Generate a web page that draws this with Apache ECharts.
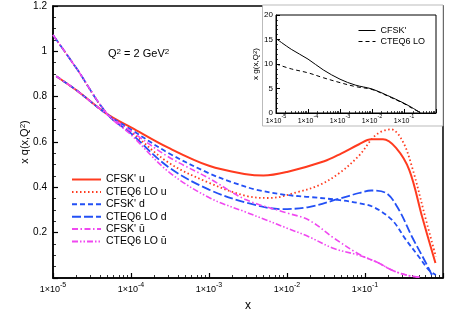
<!DOCTYPE html>
<html><head><meta charset="utf-8">
<script src="https://cdn.jsdelivr.net/npm/echarts@6/dist/echarts.min.js"></script>
<style>html,body{margin:0;padding:0;background:#fff}#c{width:450px;height:318px}</style>
</head><body><div id="c"></div>
<script>
// ---- data (x, x q(x,Q^2)) ----
const cfskU = [[1.1e-5,0.89],[2e-5,0.828],[5e-5,0.722],[1e-4,0.665],[3e-4,0.575],[1e-3,0.495],[3e-3,0.458],[5e-3,0.452],[1e-2,0.468],[3e-2,0.515],[5e-2,0.55],[0.084,0.59],[0.12,0.612],[0.17,0.612],[0.25,0.574],[0.37,0.476],[0.54,0.27],[0.8,0.066]];
const cteqU = [[1e-5,1.072],[2e-5,0.925],[5e-5,0.722],[1e-4,0.645],[3e-4,0.51],[1e-3,0.42],[3e-3,0.362],[6e-3,0.353],[1.4e-2,0.38],[2.6e-2,0.41],[4.7e-2,0.463],[8.4e-2,0.54],[0.138,0.631],[0.215,0.656],[0.298,0.609],[0.40,0.491],[0.605,0.256],[0.81,0.094]];
const cfskD = [[1.1e-5,0.89],[2e-5,0.828],[5e-5,0.72],[1e-4,0.655],[3e-4,0.552],[1e-3,0.462],[2e-3,0.422],[4e-3,0.39],[1e-2,0.366],[2e-2,0.357],[4.7e-2,0.344],[8.4e-2,0.33],[0.13,0.312],[0.222,0.256],[0.336,0.168],[0.49,0.094],[0.66,0.035],[0.81,0.013]];
const cteqD = [[1e-5,1.072],[2e-5,0.925],[5e-5,0.722],[1e-4,0.638],[3e-4,0.49],[1e-3,0.39],[3.2e-3,0.33],[8.6e-3,0.304],[1.9e-2,0.313],[4.7e-2,0.35],[8.4e-2,0.375],[0.12,0.386],[0.186,0.375],[0.273,0.30],[0.40,0.182],[0.605,0.066],[0.72,0.013]];
const cfskUbar = [[1.1e-5,0.89],[2e-5,0.828],[5e-5,0.72],[1e-4,0.648],[3e-4,0.535],[1e-3,0.44],[3e-3,0.345],[1e-2,0.287],[1.9e-2,0.256],[4e-2,0.176],[8.4e-2,0.105],[0.15,0.066],[0.22,0.035],[0.34,0.013],[0.5,0.003]];
const cteqUbar = [[1e-5,1.072],[2e-5,0.925],[5e-5,0.722],[1e-4,0.632],[3e-4,0.47],[1e-3,0.355],[3e-3,0.29],[5.4e-3,0.256],[1e-2,0.22],[1.9e-2,0.182],[4e-2,0.13],[8.4e-2,0.10],[0.15,0.066],[0.22,0.035],[0.34,0.013],[0.5,0.003]];
// inset: x g(x,Q^2)
const gCfsk = [[1e-5,15.2],[3e-5,13],[1e-4,11],[3e-4,8.8],[1e-3,6.9],[3e-3,5.7],[1e-2,4.9],[3e-2,3.6],[0.1,2.0],[0.2,0.9],[0.33,0]];
const gCteq = [[1e-5,10],[3e-5,9],[1e-4,8.2],[3e-4,7.2],[1e-3,6.2],[3e-3,5.4],[1e-2,4.8],[3e-2,3.5],[0.1,1.9],[0.2,0.8],[0.35,0]];
const mainNames = ["CFSK' u","CTEQ6 LO u","CFSK' d","CTEQ6 LO d","CFSK' ū","CTEQ6 LO ū"];
const insetNames = ["CFSK'","CTEQ6 LO"];

const FONT = 'Liberation Sans';
const RED = '#ff3b1f', BLUE = '#2350f5', MAG = '#f048f0';
function logLabel(v){
  const e = Math.round(Math.log10(v));
  if (e >= 0) return '';
  return '{b|1×10}{s|' + e + '}';
}
const supRich = (b, s) => ({b:{fontSize:b, lineHeight:16, fontFamily:FONT, color:'#000'}, s:{fontSize:s, lineHeight:8, verticalAlign:'top', fontFamily:FONT, color:'#000'}});

function line(name, data, color, type, width, xi, z){
  return {name, type:'line', data, xAxisIndex:xi, yAxisIndex:xi, symbol:'none', smooth:0.35,
    z: z, lineStyle:{color, type, width}, itemStyle:{color}, clip:true, animation:false};
}
const hiddenSymbol = {color:'rgba(0,0,0,0)', borderWidth:0, borderColor:'rgba(0,0,0,0)'};

const chart = echarts.init(document.getElementById('c'), null, {renderer:'canvas'});
chart.setOption({
  animation:false,
  textStyle:{fontFamily:FONT},
  grid:[
    {left:53, top:6, right:7, bottom:40, show:true, borderColor:'#000', borderWidth:1.5, backgroundColor:'transparent'},
    {left:276, top:15, width:160, height:98, show:true, borderColor:'#000', borderWidth:1, z:110}
  ],
  xAxis:[
    {type:'log', gridIndex:0, min:1e-5, max:1, logBase:10,
     name:'x', nameLocation:'middle', nameGap:21, nameTextStyle:{fontSize:12, fontFamily:FONT, color:'#000'},
     axisLine:{lineStyle:{color:'#000', width:1.5}},
     axisTick:{inside:true, length:5, lineStyle:{color:'#000', width:1.2}},
     minorTick:{show:true, splitNumber:9, length:3, lineStyle:{color:'#000', width:0.8}},
     splitLine:{show:false}, minorSplitLine:{show:false},
     axisLabel:{formatter:logLabel, margin:4, rich:supRich(9,7)}},
    {type:'log', gridIndex:1, min:1e-5, max:1, logBase:10, z:115,
     axisLine:{lineStyle:{color:'#000', width:1}},
     axisTick:{inside:true, length:4, lineStyle:{color:'#000', width:1}},
     minorTick:{show:true, splitNumber:9, length:2, lineStyle:{color:'#000', width:0.7}},
     splitLine:{show:false},
     axisLabel:{formatter:logLabel, margin:0, rich:supRich(7,5.5)}}
  ],
  yAxis:[
    {type:'value', gridIndex:0, min:0, max:1.2, interval:0.2,
     name:'x q(x,Q{s|2})', nameLocation:'middle', nameGap:23, nameRotate:90, nameMoveOverlap:false,
     nameTextStyle:{fontSize:11, fontFamily:FONT, color:'#000', rich:{s:{fontSize:8, verticalAlign:'top', lineHeight:8}}},
     axisLine:{show:true, lineStyle:{color:'#000', width:1.5}},
     axisTick:{inside:true, length:5, lineStyle:{color:'#000', width:1.2}},
     minorTick:{show:true, splitNumber:4, length:3, lineStyle:{color:'#000', width:0.8}},
     splitLine:{show:false},
     axisLabel:{fontSize:10, color:'#000', margin:6, formatter:v => v === 0 ? '' : String(+v.toFixed(1))}},
    {type:'value', gridIndex:1, min:0, max:20, interval:5, z:115,
     name:'x g(x,Q{s|2})', nameLocation:'middle', nameGap:14, nameRotate:90,
     nameTextStyle:{fontSize:8, fontFamily:FONT, color:'#000', rich:{s:{fontSize:6, verticalAlign:'top', lineHeight:6}}},
     axisLine:{show:true, lineStyle:{color:'#000', width:1}},
     axisTick:{inside:true, length:4, lineStyle:{color:'#000', width:1}},
     minorTick:{show:true, splitNumber:5, length:2, lineStyle:{color:'#000', width:0.7}},
     splitLine:{show:false},
     axisLabel:{fontSize:8, color:'#000', margin:3}}
  ],
  legend:[
    {data:mainNames, orient:'vertical', left:71, top:174, padding:0, itemWidth:29, itemHeight:10, itemGap:1.4,
     itemStyle:hiddenSymbol,
     textStyle:{fontSize:10.5, fontFamily:FONT, color:'#000'}, z:4,
     selectedMode:false},
    {data:insetNames, orient:'vertical', left:358, top:26, padding:0, itemWidth:17, itemHeight:10, itemGap:2,
     itemStyle:hiddenSymbol, lineStyle:{width:1},
     textStyle:{fontSize:9, fontFamily:FONT, color:'#000'}, z:130, selectedMode:false}
  ],
  title:{text:'Q{s|2} = 2 GeV{s|2}', left:103, top:43,
    textStyle:{fontSize:11, fontWeight:'normal', fontFamily:FONT, color:'#000',
      rich:{s:{fontSize:8, verticalAlign:'top', lineHeight:8, fontFamily:FONT, color:'#000'}}}},
  graphic:{elements:[
    {type:'rect', shape:{x:262.5, y:5, width:180.5, height:121}, z:100, silent:true,
     style:{fill:'#fff', stroke:'#aaa', lineWidth:0.8}}
  ]},
  series:[
    line(mainNames[0], cfskU, RED, 'solid', 2, 0, 2),
    line(mainNames[1], cteqU, RED, [1.5,2.5], 1.8, 0, 2),
    line(mainNames[2], cfskD, BLUE, [5,3], 1.8, 0, 2),
    line(mainNames[3], cteqD, BLUE, [9,3], 1.8, 0, 2),
    line(mainNames[4], cfskUbar, MAG, [6,2.5,1.5,2.5], 1.6, 0, 2),
    line(mainNames[5], cteqUbar, MAG, [6,2,1.5,2,1.5,2], 1.6, 0, 2),
    line(insetNames[0], gCfsk, '#000', 'solid', 1, 1, 120),
    line(insetNames[1], gCteq, '#000', [4,3], 1, 1, 120)
  ]
});
</script></body></html>
